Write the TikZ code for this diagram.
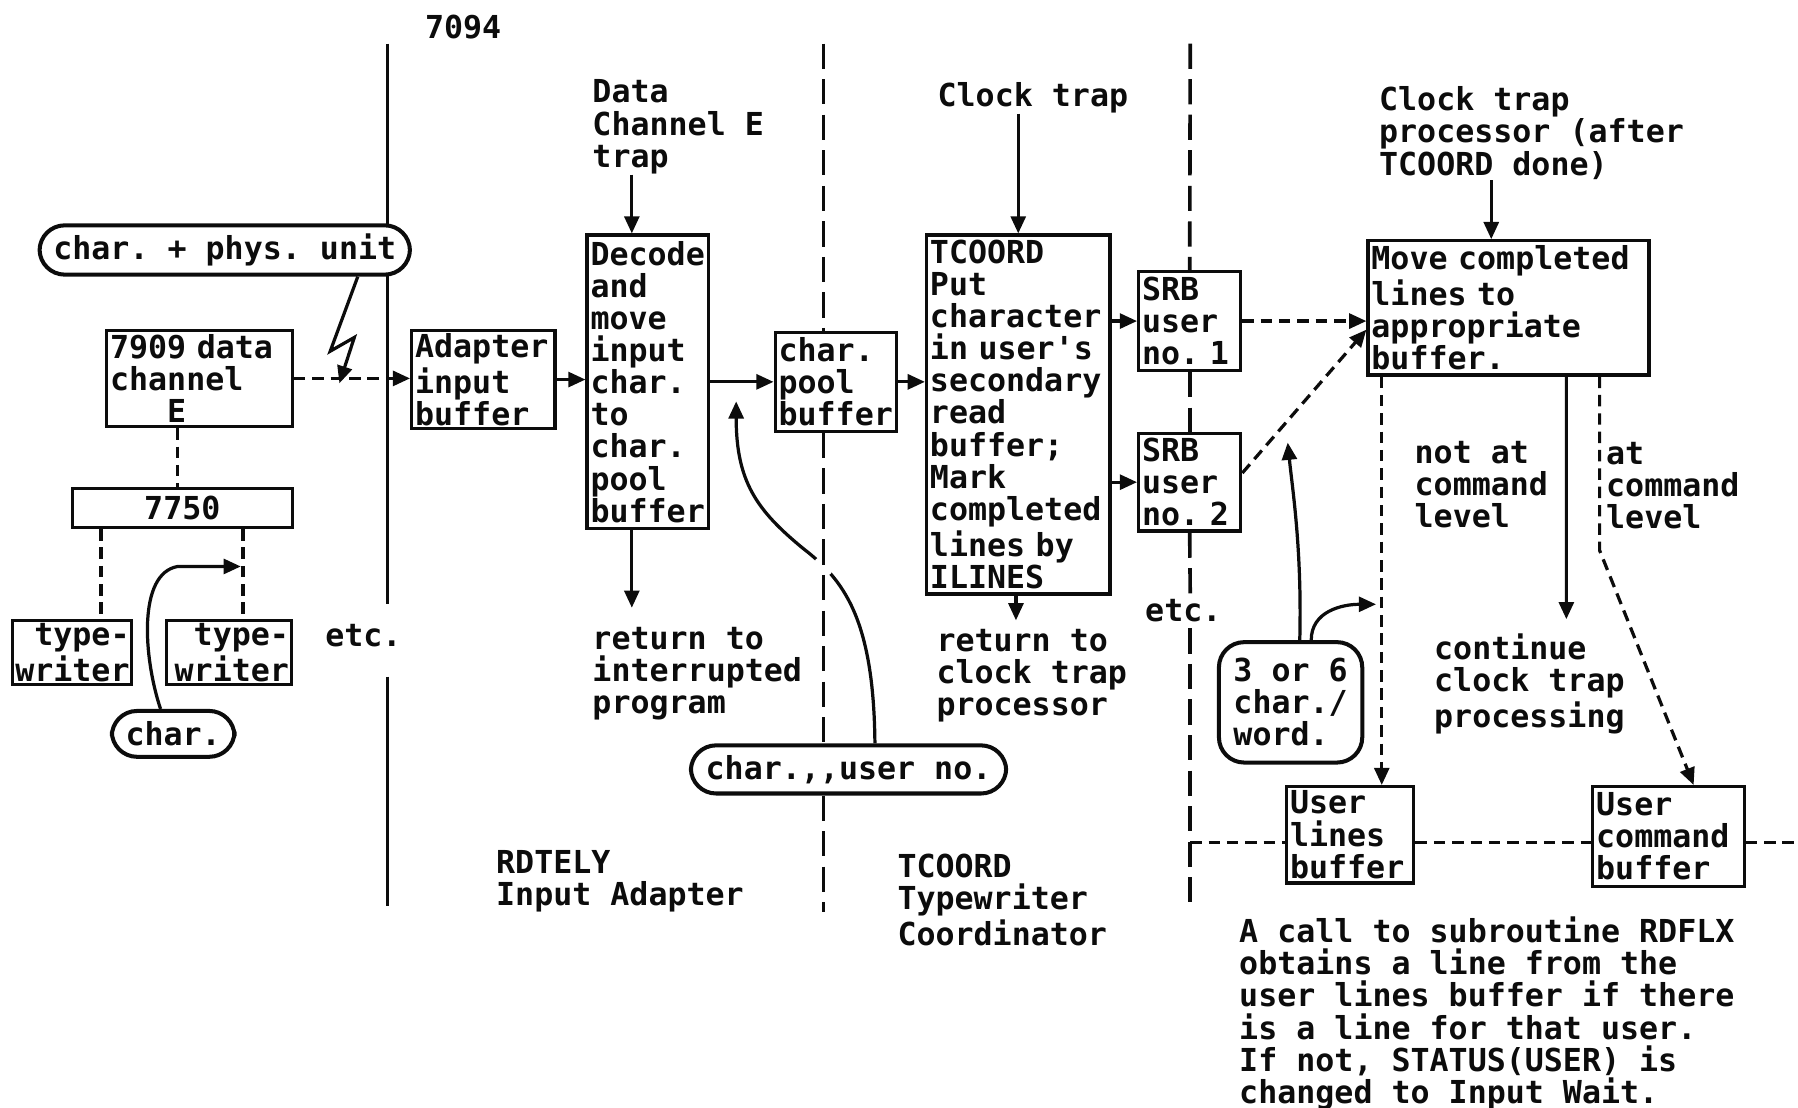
\documentclass[tikz,border=0pt]{standalone}
\usepackage{fontspec}
\setmainfont{DejaVu Sans Mono}
\usepackage{tikz}
\usetikzlibrary{
    arrows.meta,
    positioning,
    backgrounds
}
\definecolor{ink}{RGB}{12,12,12}
\frenchspacing

\begin{document}
\begin{tikzpicture}[
    x=0.1mm, y=-0.1mm,
    every node/.style={font=\fontsize{7.85}{7.97}\selectfont\bfseries, text=ink},
    box/.style={draw=ink, line width=0.8pt, inner xsep=0.3mm, inner ysep=0.1mm, align=left},
    bubble/.style={draw=ink, line width=1pt, rounded corners=2.2mm, fill=white, inner sep=0.6mm},
    txt/.style={anchor=north west, align=left, inner sep=0pt},
    arrow/.style={-{Triangle[length=1.5mm, width=1.3mm]}, line width=0.8pt, draw=ink},
    dasharrow/.style={arrow, dash pattern=on 1mm off 0.6mm},
    link/.style={draw=ink, line width=0.8pt, dash pattern=on 1mm off 0.6mm},
    divider/.style={draw=ink, line width=0.9pt, dash pattern=on 2.2mm off 0.9mm}
]
    \useasboundingbox (0,0) rectangle (1568,966);

    % Hardware side
    \node[box, text width=15.6mm, minimum height=8.4mm] (b7909) at (174,330)
        {7909 data\\channel\\\phantom{cha}E};
    \node[box, text width=18.6mm, minimum height=3.4mm, align=center] (b7750) at (159,443) {7750};
    \node[box, inner xsep=0.2mm, text width=10mm, minimum height=5.6mm, align=right] (btw1) at (63,569)
        {type-\\writer};
    \node[box, inner xsep=0.2mm, text width=10.5mm, minimum height=5.6mm, align=right] (btw2) at (199.5,569)
        {type-\\writer};
    \node[txt] (tetc1) at (283,544) {etc.};

    % Input adapter
    \node[txt] (t7094) at (370,12) {7094};
    \node[box, text width=11.9mm, minimum height=8.6mm] (badapt) at (421.5,331)
        {Adapter\\input\\buffer};
    \node[txt] (tdata) at (516,69) {Data\\Channel E\\trap};
    \node[box, text width=10mm, minimum height=25.6mm] (bdecode) at (565,333)
        {Decode\\and\\move\\input\\char.\\to\\char.\\pool\\buffer};
    \node[txt] (tret1) at (516,546) {return to\\interrupted\\program};
    \node[box, text width=10mm, minimum height=8.6mm] (bpool) at (729,333)
        {char.\\pool\\buffer};
    \node[txt] (trdtely) at (432,741) {RDTELY\\Input Adapter};

    % Typewriter coordinator
    \node[txt] (tclock) at (817,71) {Clock trap};
    \node[box, text width=15.4mm, minimum height=31.3mm] (btcoord) at (888,361.5)
        {TCOORD\\Put\\character\\in user\textquotesingle s\\secondary\\read\\buffer;\\Mark\\completed\\lines by\\ILINES};
    \node[txt] (tret2) at (816,548) {return to\\clock trap\\processor};
    \node[txt] (ttcoord) at (782,744) {TCOORD\\Typewriter\\Coordinator};
    \node[box, text width=8.3mm, minimum height=8.6mm] (bsrb1) at (1037.5,280) {SRB\\user\\no. 1};
    \node[box, text width=8.3mm, minimum height=8.5mm] (bsrb2) at (1037.5,420.5) {SRB\\user\\no. 2};
    \node[txt] (tetc2) at (998,522) {etc.};

    % Clock trap processor
    \node[txt] (tproc) at (1202,75) {Clock trap\\processor (after\\TCOORD done)};
    \node[box, text width=23.9mm, minimum height=11.7mm] (bmove) at (1315.5,268.5)
        {Move completed\\lines to\\appropriate\\buffer.};
    \node[txt] (tnot) at (1233,384) {not at\\command\\level};
    \node[txt] (tat) at (1400,385) {at\\command\\level};
    \node[txt] (tcont) at (1250,552) {continue\\clock trap\\processing};
    \node[box, text width=10.5mm, minimum height=8.4mm] (blines) at (1177.5,728) {User\\lines\\buffer};
    \node[box, text width=12.6mm, minimum height=8.7mm] (bcmd) at (1455,729.5) {User\\command\\buffer};
    \node[txt] (tcall) at (1080,799)
        {A call to subroutine RDFLX\\obtains a line from the\\user lines buffer if there\\is a line for that user.\\If not, STATUS(USER) is\\changed to Input Wait.};

    % Hand-drawn notes
    \node[bubble, minimum width=32.3mm, minimum height=4.3mm] (bphys) at (196,218) {char. + phys. unit};
    \node[bubble, minimum width=10.7mm, minimum height=4mm] (bchar) at (151,640) {char.};
    \node[bubble, minimum width=27.5mm, minimum height=4.2mm] (bcharuser) at (740,671) {char.,{},user no.};
    \node[bubble, minimum width=12.5mm, minimum height=10.5mm, align=left] (bword) at (1125.5,612.5)
        {3 or 6\\char./\\word.};

    % Program boundaries
    \begin{scope}[on background layer]
        \coordinate (poolup) at (642,350);
        \draw[arrow] ([xshift=2.3mm]bcharuser.north) .. controls +(-1,-110) and (735,505) .. (700,478)
            .. controls (660,445) and (642,420) .. (poolup);
        \fill[white] (718,494) circle (9);
        \draw[ink, line width=0.9pt] (338,38) -- (338,527);
        \draw[ink, line width=0.9pt] (338,590) -- (338,790);
        \coordinate (d2) at (718,38);
        \draw[divider] (d2) -- (d2 |- bpool.north);
        \draw[divider] (d2 |- bpool.south) -- (d2 |- bcharuser.north);
        \draw[divider] (d2 |- bcharuser.south) -- (718,795);
        \draw[divider] (1038,38) -- (bsrb1.north);
        \draw[divider] (bsrb1.south) -- (bsrb2.north);
        \draw[divider] (bsrb2.south) -- (1038,520);
        \draw[divider] (1038,548) -- (1038,795);
    \end{scope}

    % Hardware links
    \coordinate (e7909) at ([xshift=-1.9mm]b7909.south);
    \draw[link] (e7909) -- (e7909 |- b7750.north);
    \coordinate (tw1top) at ([xshift=2.5mm]btw1.north);
    \coordinate (tw2top) at ([xshift=1.25mm]btw2.north);
    \draw[link] (tw1top |- b7750.south) -- (tw1top);
    \draw[link] (tw2top |- b7750.south) -- (tw2top);
    \draw[dasharrow] (b7909.east) -- (b7909.east -| badapt.west);
    \draw[arrow] ([xshift=11.6mm]bphys.south) -- ++(-24,65) -- ++(21,-12) -- ++(-13,40);
    \coordinate (twmid) at (210,494);
    \draw[arrow] ([xshift=-1.1mm]bchar.north) .. controls +(-15,-45) and (120,500) .. (155,494) -- (twmid);

    % Adapter flow
    \coordinate (dtop) at ([xshift=-1.4mm]bdecode.north);
    \coordinate (decout) at (551,530);
    \draw[arrow] (dtop |- tdata.south) -- (dtop);
    \draw[arrow] (badapt.east) -- (badapt.east -| bdecode.west);
    \draw[arrow] (bdecode.east) -- (bpool.west);
    \draw[arrow] (decout |- bdecode.south) -- (decout);

    % Coordinator flow
    \coordinate (tcout) at (886,541);
    \draw[arrow] (btcoord.north |- tclock.south) -- (btcoord.north);
    \draw[arrow] (bpool.east) -- (bpool.east -| btcoord.west);
    \draw[arrow] (tcout |- btcoord.south) -- (tcout);
    \draw[arrow] (btcoord.east |- bsrb1.west) -- (bsrb1.west);
    \draw[arrow] (btcoord.east |- bsrb2.west) -- (bsrb2.west);

    % Clock trap processor flow
    \coordinate (mtop) at ([xshift=-1.5mm]bmove.north);
    \coordinate (mvin) at ([yshift=-1.9mm]bmove.west);
    \draw[arrow] (mtop |- tproc.south) -- (mtop);
    \draw[dasharrow] (bsrb1.east) -- (bsrb1.east -| bmove.west);
    \draw[dasharrow] ([yshift=0.8mm]bsrb2.east) -- (mvin);
    \coordinate (mvl) at ([xshift=-11.05mm]bmove.south);
    \coordinate (mvc) at ([xshift=5.05mm]bmove.south);
    \coordinate (mvr) at ([xshift=7.95mm]bmove.south);
    \coordinate (contin) at (1366,540);
    \coordinate (bend) at (1395,480);
    \coordinate (cmdin) at ([xshift=2.2mm]bcmd.north);
    \draw[dasharrow] (mvl) -- (mvl |- blines.north);
    \draw[arrow] (mvc) -- (contin);
    \draw[dasharrow] (mvr) -- (bend) -- (cmdin);
    \coordinate (diagpt) at (1123,386);
    \coordinate (lineside) at (1200,527);
    \draw[arrow] ([xshift=0.8mm]bword.north) .. controls +(2,-80) and +(4,40) .. (diagpt);
    \draw[arrow] ([xshift=1.8mm]bword.north) .. controls +(0,-25) and +(-30,0) .. (lineside);

    % User buffers line
    \coordinate (busl) at (1038,735);
    \coordinate (busr) at (1568,735);
    \draw[link] (busl) -- (busl -| blines.west);
    \draw[link] (busl -| blines.east) -- (busl -| bcmd.west);
    \draw[link] (busl -| bcmd.east) -- (busr);

\end{tikzpicture}
\end{document}
